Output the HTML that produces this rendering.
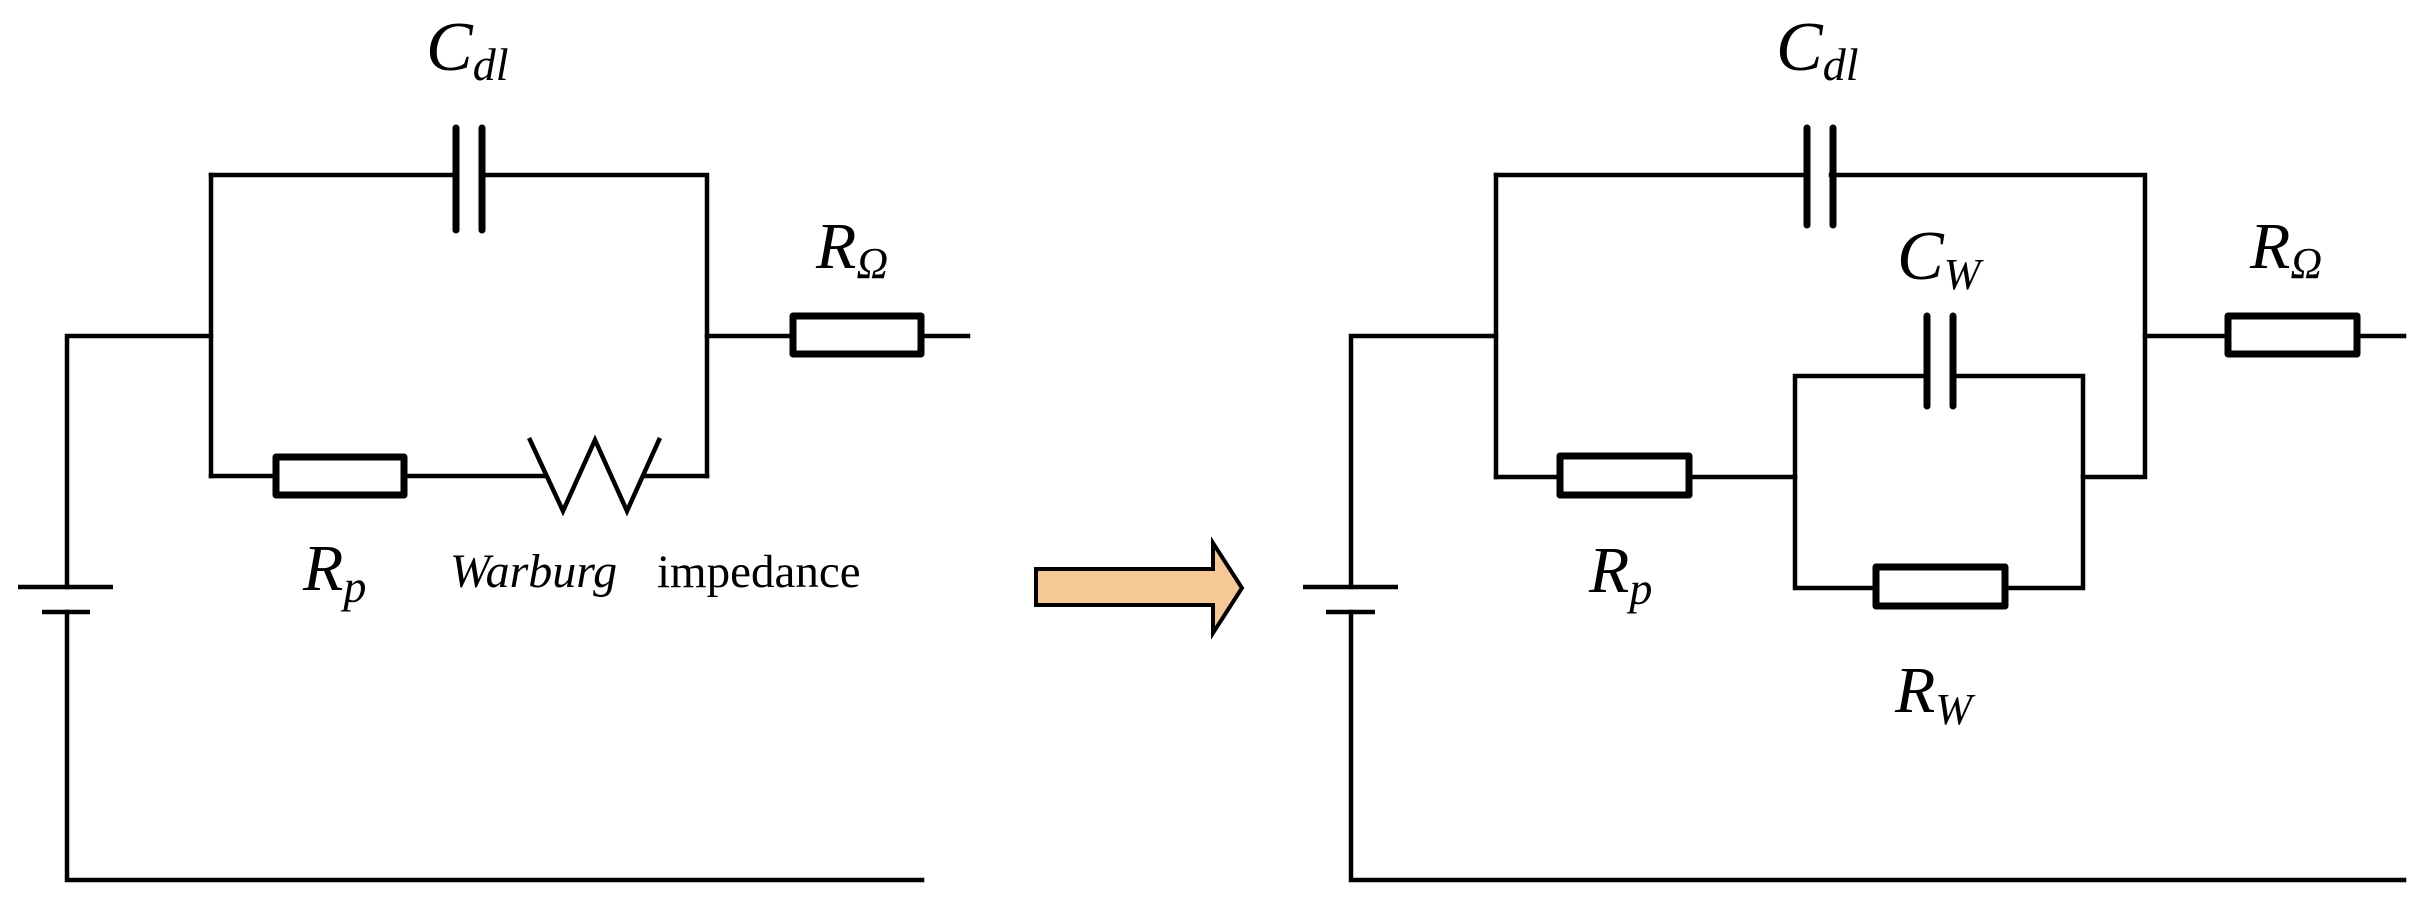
<!DOCTYPE html>
<html><head><meta charset="utf-8"><style>
html,body{margin:0;padding:0;background:#fff;}
svg{display:block;}
text{font-family:"Liberation Serif",serif;fill:#000;}
</style></head><body>
<svg width="2435" height="904" viewBox="0 0 2435 904" xmlns="http://www.w3.org/2000/svg">
<g fill="none" stroke="#000" stroke-width="4.5" stroke-linecap="square">
<polyline points="67,587 67,336 211,336"/>
<polyline points="67,612 67,880 922,880"/>
<line x1="211" y1="175" x2="211" y2="476"/>
<polyline points="211,175 456,175"/>
<polyline points="482,175 707,175 707,476"/>
<polyline points="211,476 273,476"/>
<line x1="407" y1="476" x2="545" y2="476"/>
<polyline points="530,440 563,511 595,440 627,511 659,440"/>
<line x1="645" y1="476" x2="707" y2="476"/>
<polyline points="707,336 790,336"/>
<line x1="924" y1="336" x2="968" y2="336"/>
<polyline points="1351,587 1351,336 1496,336"/>
<polyline points="1351,612 1351,880 2404,880"/>
<line x1="1496" y1="175" x2="1496" y2="477"/>
<line x1="1496" y1="175" x2="1805" y2="175"/>
<polyline points="1831,175 2145,175 2145,477 2083,477"/>
<line x1="1496" y1="477" x2="1557" y2="477"/>
<line x1="1692" y1="477" x2="1795" y2="477"/>
<rect x="1795" y="376" width="288" height="212"/>
<line x1="2145" y1="336" x2="2225" y2="336"/>
<line x1="2360" y1="336" x2="2404" y2="336"/>
</g>
<line x1="1930" y1="376" x2="1950" y2="376" stroke="#fff" stroke-width="8"/>
<g fill="#fff" stroke="#000" stroke-width="7" stroke-linejoin="round">
<rect x="276" y="457" width="128" height="38"/>
<rect x="793" y="316" width="128" height="38"/>
<rect x="1560" y="456" width="129" height="39"/>
<rect x="1876" y="567" width="129" height="39"/>
<rect x="2228" y="316" width="129" height="38"/>
</g>
<g stroke="#000" stroke-width="7" stroke-linecap="round">
<line x1="456" y1="128" x2="456" y2="230"/>
<line x1="482" y1="128" x2="482" y2="230"/>
<line x1="1807" y1="128" x2="1807" y2="225"/>
<line x1="1833" y1="128" x2="1833" y2="225"/>
<line x1="1927" y1="316" x2="1927" y2="406"/>
<line x1="1953" y1="316" x2="1953" y2="406"/>
</g>
<g stroke="#000" stroke-width="4.5">
<line x1="18" y1="587" x2="113" y2="587"/>
<line x1="42" y1="612" x2="90" y2="612"/>
<line x1="1303" y1="587" x2="1398" y2="587"/>
<line x1="1326" y1="612" x2="1375" y2="612"/>
</g>
<polygon points="1036,569 1213,569 1213,543 1242,588 1213,633 1213,605 1036,605" fill="#F6C896" stroke="#000" stroke-width="4" stroke-linejoin="miter"/>
<g font-style="italic">
<text x="426" y="70" font-size="70">C<tspan font-size="46" dy="10">dl</tspan></text>
<text x="816" y="268" font-size="66">R<tspan font-size="44" dy="10">Ω</tspan></text>
<text x="303" y="590" font-size="66">R<tspan font-size="46" dy="12">p</tspan></text>
<text x="450" y="587" font-size="48">Warburg</text>
<text x="1776" y="70" font-size="70">C<tspan font-size="46" dy="10">dl</tspan></text>
<text x="2250" y="268" font-size="66">R<tspan font-size="44" dy="10">Ω</tspan></text>
<text x="1589" y="592" font-size="66">R<tspan font-size="46" dy="12">p</tspan></text>
<text x="1897" y="279" font-size="70">C<tspan font-size="44" dy="10">W</tspan></text>
<text x="1895" y="712" font-size="66">R<tspan font-size="44" dy="12">W</tspan></text>
</g>
<text x="657" y="587" font-size="47">impedance</text>
</svg>
</body></html>
